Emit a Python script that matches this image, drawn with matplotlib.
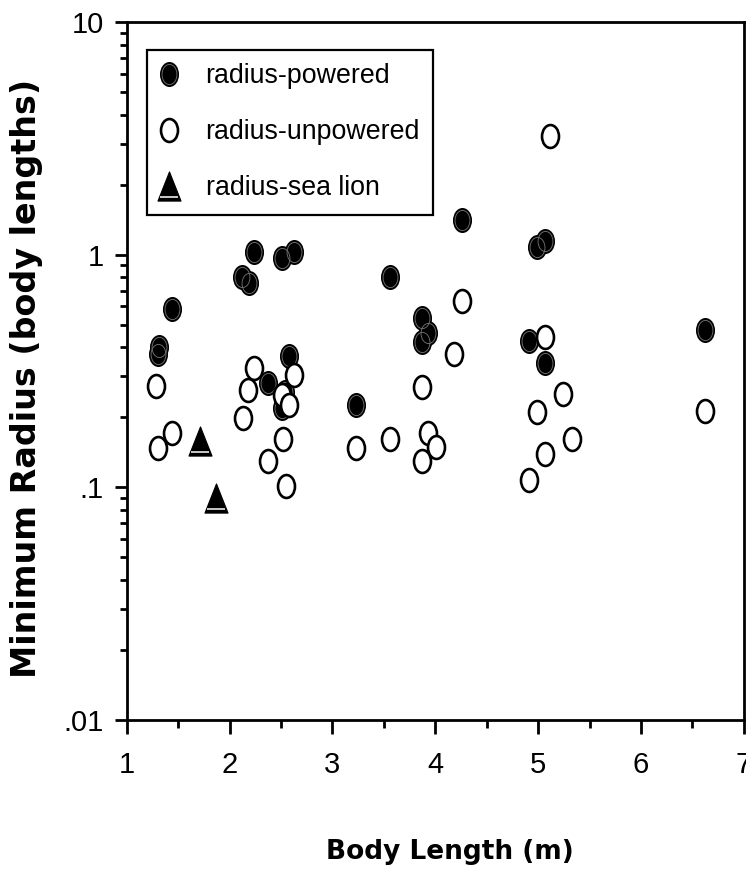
import matplotlib
matplotlib.use("Agg")
import matplotlib.pyplot as plt
from matplotlib.path import Path
from matplotlib.transforms import Affine2D
from matplotlib.ticker import NullFormatter

# body length (m) and minimum radius (body lengths)
powered_len = [1.31, 1.30, 1.435, 2.116, 2.19, 2.235, 2.37, 2.505, 2.505, 2.537,
               2.58, 2.625, 3.225, 3.558, 3.873, 3.873, 3.93, 4.262, 4.91, 4.985,
               5.066, 5.066, 6.62]
powered_rad = [0.40, 0.375, 0.585, 0.804, 0.753, 1.03, 0.28, 0.965, 0.219, 0.258,
               0.366, 1.03, 0.226, 0.80, 0.533, 0.423, 0.459, 1.41, 0.425, 1.08,
               1.15, 0.343, 0.475]

unpowered_len = [1.28, 1.305, 1.435, 2.13, 2.18, 2.24, 2.37, 2.505, 2.52, 2.544,
                 2.58, 2.63, 3.225, 3.558, 3.873, 3.873, 3.925, 4.006, 4.184, 4.262,
                 4.91, 4.985, 5.066, 5.066, 5.115, 5.244, 5.325, 6.62]
unpowered_rad = [0.273, 0.148, 0.172, 0.198, 0.262, 0.325, 0.130, 0.250, 0.161, 0.101,
                 0.226, 0.303, 0.148, 0.161, 0.271, 0.130, 0.172, 0.149, 0.373, 0.632,
                 0.108, 0.211, 0.444, 0.139, 3.24, 0.251, 0.161, 0.212]

sealion_len = [1.71, 1.866]
sealion_rad = [0.159, 0.0903]

x_ticks = [1, 2, 3, 4, 5, 6, 7]
y_ticks = [0.01, 0.1, 1, 10]
y_ticklabels = [".01", ".1", "1", "10"]

# markers: tall ellipse, triangle with a white stripe near the base
ellipse = Path.unit_circle().transformed(Affine2D().scale(0.74, 1.0))
tri = Path([(0, 1), (-0.79, -1), (0.79, -1), (0, 1)],
           [Path.MOVETO, Path.LINETO, Path.LINETO, Path.CLOSEPOLY])
stripe = Path([(0, 1), (0, -1), (-0.6, -0.74), (0.6, -0.74)],
              [Path.MOVETO, Path.MOVETO, Path.MOVETO, Path.LINETO])

fig = plt.figure(figsize=(7.46, 8.73), dpi=100)
ax = fig.add_axes([0.170, 0.1752, 0.827, 0.7996])

p1, = ax.plot(powered_len, powered_rad, ls="none", marker=ellipse, ms=16.5,
              mfc="black", mec="black", mew=1.5, zorder=3)
p1b, = ax.plot(powered_len, powered_rad, ls="none", marker=ellipse, ms=14.5,
               mfc="none", mec="#777777", mew=0.6, zorder=3)
p2, = ax.plot(unpowered_len, unpowered_rad, ls="none", marker=ellipse, ms=16.5,
              mfc="white", mec="black", mew=1.9, zorder=4)
p3, = ax.plot(sealion_len, sealion_rad, ls="none", marker=tri, ms=21,
              mfc="black", mec="black", mew=0.8, zorder=5)
p3b, = ax.plot(sealion_len, sealion_rad, ls="none", marker=stripe, ms=21,
               mfc="none", mec="white", mew=1.1, zorder=6)

ax.set_yscale("log")
ax.set_xlim(1, 7)
ax.set_ylim(0.01, 10)
ax.set_xticks(x_ticks)
ax.set_xticks([1.5, 2.5, 3.5, 4.5, 5.5, 6.5], minor=True)
ax.set_yticks(y_ticks, labels=y_ticklabels)
ax.yaxis.set_minor_formatter(NullFormatter())

for s in ax.spines.values():
    s.set_linewidth(2)
ax.tick_params(axis="both", which="both", direction="out", width=2,
               top=False, right=False, labelsize=21,
               labelfontfamily=["Liberation Sans Narrow", "Liberation Sans"])
ax.tick_params(axis="x", which="major", length=10, pad=12)
ax.tick_params(axis="x", which="minor", length=6)
ax.tick_params(axis="y", which="major", length=8.5, pad=8)
ax.tick_params(axis="y", which="minor", length=5)

ax.set_xlabel("Body Length (m)", fontsize=19, fontweight="bold")
ax.set_ylabel("Minimum Radius (body lengths)", fontsize=24, fontweight="bold")
ax.xaxis.set_label_coords(0.523, -0.170)
ax.yaxis.set_label_coords(-0.136, 0.49)

leg = ax.legend([(p1, p1b), p2, (p3, p3b)],
                ["radius-powered", "radius-unpowered", "radius-sea lion"],
                loc="upper left", bbox_to_anchor=(0.032, 0.96), borderaxespad=0,
                frameon=True, fancybox=False, framealpha=1, edgecolor="black",
                handlelength=0.7, handletextpad=1.0, borderpad=0.5,
                labelspacing=1.12,
                prop={"family": "Liberation Sans", "size": 19.3})
leg.get_frame().set_linewidth(1.6)

fig.savefig("out.png", dpi=100)
